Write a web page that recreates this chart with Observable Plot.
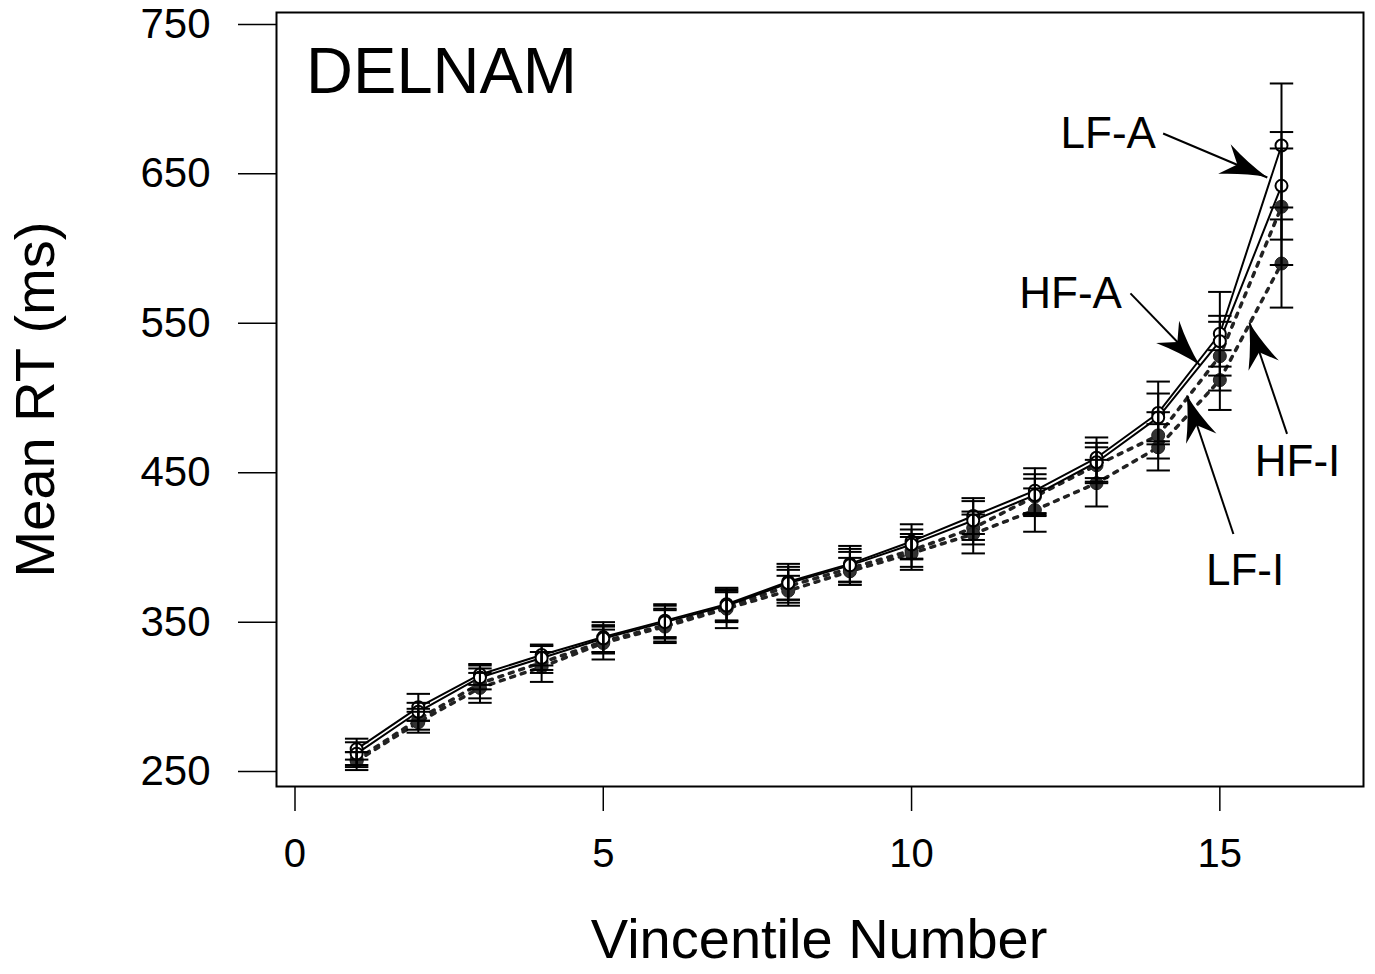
<!DOCTYPE html>
<html><head><meta charset="utf-8">
<script src="https://cdn.jsdelivr.net/npm/d3@7"></script>
<script src="https://cdn.jsdelivr.net/npm/@observablehq/plot@0.6"></script>
<style>
body{margin:0;background:#fff}
svg{font-family:"Liberation Sans",Arial,Helvetica,sans-serif}
</style>
</head><body><div id="chart"></div>
<script>
// ---- data ----
const vincentile = [1,2,3,4,5,6,7,8,9,10,11,12,13,14,15,16];
const lfA    = [265,293,315,328,340,351,362,377,389,404,421,438,460,490,543,669];
const lfAerr = [7,9,7,7,10,11,11,12,12,11.5,12,15,13.6,21,28,41.5];
const hfA    = [262,290,313,326,339,350,361,376,388,402,418,435,457,487,538,642];
const hfAerr = [7.6,6,8,8,9,11,10,11,11,10,13,14,13,16,17,36];
const lfI    = [258,285,309,323,337,348,360,374,386,398,413,434,455,475,528,628];
const lfIerr = [5,7,10,7,8,11,10,11,11,11,11,12,12,15.5,23,39];
const hfI    = [257,283,306,320,336,347,359,371,384,396,409,425,443,467,512,590];
const hfIerr = [6,7,10,10,11,11,13,10,9,11,13,14.5,15.6,15.5,20,29.5];
const seriesNames = ["LF-A","HF-A","LF-I","HF-I"];
const xTicks = [0,5,10,15];
const yTicks = [250,350,450,550,650,750];
const panelTitle = "DELNAM";
const xTitle = "Vincentile Number";
const yTitle = "Mean RT (ms)";
// annotation labels (data coordinates)
const labelText = ["LF-A","HF-A","HF-I","LF-I"];
const labelX = [13.19,12.58,16.26,15.41];
const labelY = [677,570,457,384];
// arrows: tail -> tip (data coordinates)
const arrowX1 = [14.08,13.55,16.09,15.22];
const arrowY1 = [677,570,476,409];
const arrowX2 = [15.77,14.68,15.48,14.47];
const arrowY2 = [647.6,521.8,550.5,501.7];

// ---- tables built from arrays ----
const valueSets = [[lfA,lfAerr],[hfA,hfAerr],[lfI,lfIerr],[hfI,hfIerr]];
const rows = [];
seriesNames.forEach((s, k) => {
  vincentile.forEach((v, i) => rows.push({series: s, x: v, y: valueSets[k][0][i], e: valueSets[k][1][i], open: s.endsWith("-A")}));
});
const openRows = rows.filter(d => d.open);
const filledRows = rows.filter(d => !d.open);
const labels = labelText.map((t, i) => ({text: t, x: labelX[i], y: labelY[i]}));
const arrows = arrowX1.map((x1, i) => ({x1, y1: arrowY1[i], x2: arrowX2[i], y2: arrowY2[i]}));

const capHalf = 0.19;

function arrowHeads(index, scales) {
  const sx = scales.x, sy = scales.y;
  const g = d3.create("svg:g");
  for (const a of arrows) {
    const x1 = sx(a.x1), y1 = sy(a.y1), x2 = sx(a.x2), y2 = sy(a.y2);
    const ang = Math.atan2(y2 - y1, x2 - x1) * 180 / Math.PI;
    g.append("path")
      .attr("d", "M0,0Q-22,-5 -46,-16L-32,0L-46,16Q-22,5 0,0Z")
      .attr("transform", `translate(${x2},${y2}) rotate(${ang})`)
      .attr("fill", "black");
  }
  return g.node();
}

const chart = Plot.plot({
  width: 1375,
  height: 974,
  marginLeft: 276,
  marginRight: 12,
  marginTop: 12,
  marginBottom: 188,
  style: {fontFamily: '"Liberation Sans", Arial, sans-serif', background: "white", color: "black"},
  x: {domain: [-0.3, 17.33], label: null},
  y: {domain: [240, 758], label: null},
  marks: [
    Plot.axisY({ticks: yTicks, tickSize: 38, tickPadding: 28, fontSize: 42, strokeWidth: 1.5, label: null, tickFormat: d => String(d)}),
    Plot.axisX({ticks: xTicks, tickSize: 25, tickPadding: 27, fontSize: 40, strokeWidth: 1.5, label: null, tickFormat: d => String(d)}),
    Plot.frame({stroke: "black", strokeWidth: 2}),
    Plot.line(filledRows, {x: "x", y: "y", z: "series", stroke: "#222", strokeWidth: 3.5, strokeDasharray: "4,7"}),
    Plot.line(openRows, {x: "x", y: "y", z: "series", stroke: "black", strokeWidth: 2}),
    Plot.dot(filledRows, {x: "x", y: "y", r: 6.5, fill: "#333", stroke: "#222", strokeWidth: 1}),
    Plot.dot(openRows, {x: "x", y: "y", r: 6, fill: "white", stroke: "black", strokeWidth: 2}),
    Plot.ruleX(rows, {x: "x", y1: d => d.y - d.e, y2: d => d.y + d.e, stroke: "black", strokeWidth: 2}),
    Plot.link(rows, {x1: d => d.x - capHalf, x2: d => d.x + capHalf, y1: d => d.y + d.e, y2: d => d.y + d.e, stroke: "black", strokeWidth: 2}),
    Plot.link(rows, {x1: d => d.x - capHalf, x2: d => d.x + capHalf, y1: d => d.y - d.e, y2: d => d.y - d.e, stroke: "black", strokeWidth: 2}),
    Plot.link(arrows, {x1: "x1", y1: "y1", x2: "x2", y2: "y2", stroke: "black", strokeWidth: 2}),
    arrowHeads,
    Plot.text(labels, {x: "x", y: "y", text: "text", fontSize: 44, fill: "black"}),
    Plot.text([panelTitle], {x: [0.18], y: [718], text: d => d, textAnchor: "start", fontSize: 65, fill: "black"}),
    Plot.text([yTitle], {x: [-4.2], y: [499], rotate: -90, text: d => d, fontSize: 56, lineAnchor: "middle", fill: "black"}),
    Plot.text([xTitle], {x: [8.5], y: [137], text: d => d, fontSize: 56, lineAnchor: "middle", fill: "black"})
  ]
});
document.getElementById("chart").appendChild(chart);
</script>
</body></html>
